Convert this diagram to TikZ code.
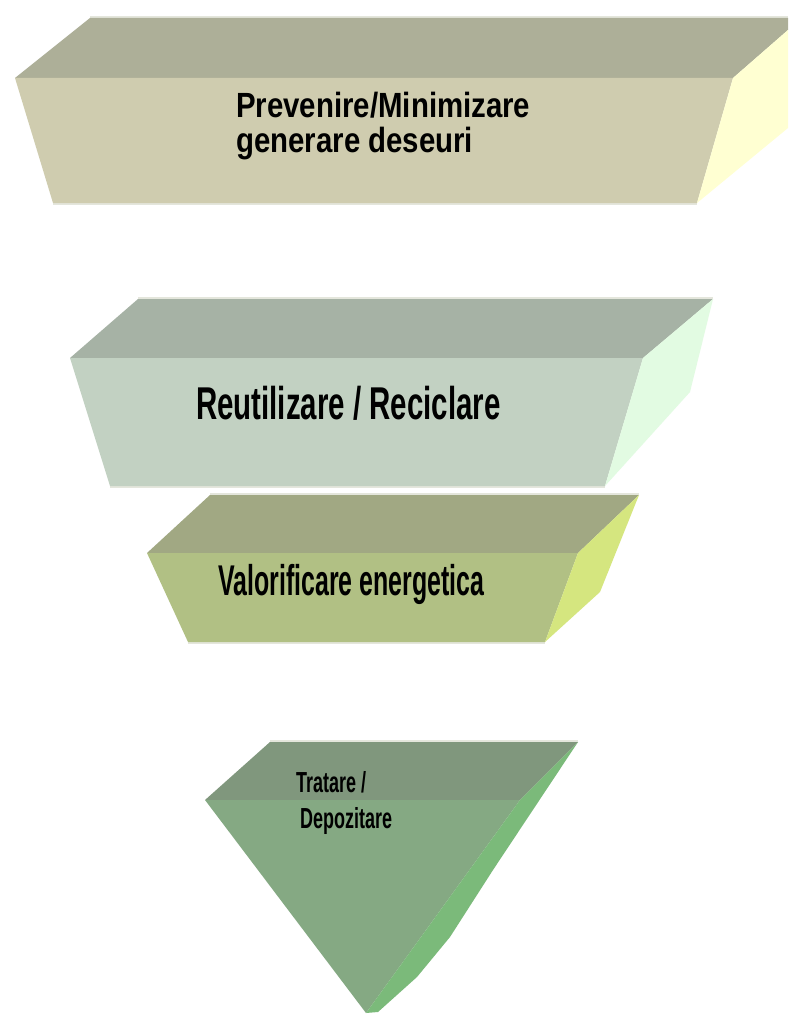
\documentclass[tikz,border=0pt]{standalone}
\usepackage{fontspec}
\usepackage{graphicx}
\setmainfont{Liberation Sans}
\newcommand{\squeezed}[2]{\scalebox{#1}[1]{#2}}

% tier colours: top face, front face, side face
\definecolor{aTop}{RGB}{173,175,152}
\definecolor{aFront}{RGB}{207,204,175}
\definecolor{aSide}{RGB}{255,255,210}
\definecolor{bTop}{RGB}{166,178,165}
\definecolor{bFront}{RGB}{194,209,194}
\definecolor{bSide}{RGB}{226,251,226}
\definecolor{cTop}{RGB}{161,168,131}
\definecolor{cFront}{RGB}{177,192,132}
\definecolor{cSide}{RGB}{213,230,127}
\definecolor{dTop}{RGB}{128,151,125}
\definecolor{dFront}{RGB}{133,169,131}
\definecolor{dSide}{RGB}{123,186,122}
\definecolor{rim}{RGB}{228,230,220}

\begin{document}
\begin{tikzpicture}[x=1pt,y=-1pt,
  rimline/.style={draw=rim,line width=2pt},
  tiertext/.style={inner sep=0pt,anchor=base west,align=left,text=black,font=\bfseries}]
\useasboundingbox (0,0) rectangle (788,1014);
\fill[white] (0,0) rectangle (788,1014);

% tier 1: prevention
\draw[rimline] (90,17) -- (788,17);
\draw[rimline] (53,204) -- (697,204);
\fill[aTop] (90,18) -- (788,18) -- (788,30) -- (733,78) -- (15,78) -- cycle;
\fill[aFront] (15,78) -- (733,78) -- (697,203) -- (53,203) -- cycle;
\fill[aSide] (788,30) -- (733,78) -- (697,203) -- (788,128) -- cycle;
% the base anchor of a two-line node sits on its last line
\node[tiertext,font=\bfseries\fontsize{35}{35}\selectfont] (t1) at (236,152)
  {\squeezed{0.84}{Prevenire/Minimizare}\\\squeezed{0.84}{generare deseuri}};

% tier 2: reuse / recycling
\draw[rimline] (138,298) -- (713,298);
\draw[rimline] (110,487) -- (605,487);
\fill[bTop] (138,299) -- (713,299) -- (643,358) -- (70,358) -- cycle;
\fill[bFront] (70,358) -- (643,358) -- (605,486) -- (110,486) -- cycle;
\fill[bSide] (713,299) -- (643,358) -- (605,486) -- (690,392) -- cycle;
\node[tiertext,font=\bfseries\fontsize{46}{46}\selectfont] (t2) at (196,419)
  {\squeezed{0.64}{Reutilizare / Reciclare}};

% tier 3: energy recovery
\draw[rimline] (210,494) -- (639,494);
\draw[rimline] (188,643) -- (545,643);
\fill[cTop] (210,495) -- (639,495) -- (578,553) -- (147,553) -- cycle;
\fill[cFront] (147,553) -- (578,553) -- (545,642) -- (188,642) -- cycle;
\fill[cSide] (639,495) -- (578,553) -- (545,642) -- (600,592) -- cycle;
\node[tiertext,font=\bfseries\fontsize{43}{43}\selectfont] (t3) at (218,595)
  {\squeezed{0.58}{Valorificare energetica}};

% tier 4: treatment / disposal
\draw[rimline] (270,741) -- (578,741);
\fill[dTop] (270,742) -- (578,742) -- (520,800) -- (205,800) -- cycle;
\fill[dFront] (205,800) -- (520,800) -- (366,1013) -- cycle;
\fill[dSide] (578,742) -- (520,800) -- (366,1013) -- (378,1012) -- (417,977)
  -- (450,937) -- (493,870) -- cycle;
\node[tiertext,font=\bfseries\fontsize{29}{36}\selectfont] (t4) at (296,828)
  {\squeezed{0.62}{Tratare /}\\\hspace*{4pt}\squeezed{0.62}{Depozitare}};
\end{tikzpicture}
\end{document}
